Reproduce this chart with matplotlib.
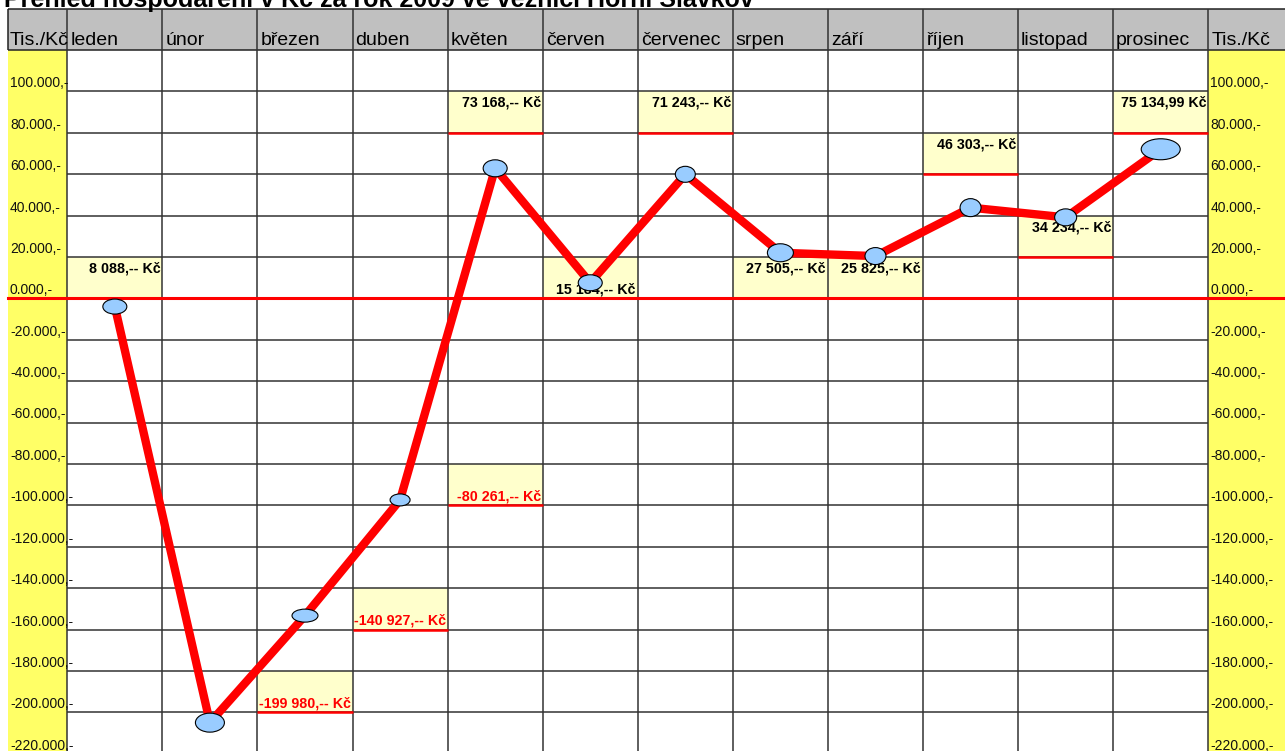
import numpy as np
import matplotlib.pyplot as plt
from matplotlib.patches import Ellipse, Rectangle

plt.rcParams['font.family'] = ['Liberation Sans', 'DejaVu Sans']

title = "Přehled hospodaření v Kč za rok 2009 ve věznici Horní Slavkov"
months = ["leden", "únor", "březen", "duben", "květen", "červen",
          "červenec", "srpen", "září", "říjen", "listopad", "prosinec"]
# curve values in thousands Kč
balance = [-4.0, -205.0, -153.3, -97.4, 62.8, 7.5,
           59.9, 22.0, 20.4, 43.8, 39.1, 72.0]

# value boxes: month index, text
label_month = [0, 2, 3, 4, 4, 5, 6, 7, 8, 9, 10, 11]
label_text = ["8 088,-- Kč", "-199 980,-- Kč", "-140 927,-- Kč", "-80 261,-- Kč",
              "73 168,-- Kč", "15 184,-- Kč", "71 243,-- Kč", "27 505,-- Kč",
              "25 825,-- Kč", "46 303,-- Kč", "34 234,-- Kč", "75 134,99 Kč"]
# which grid cell (its lower edge) each box sits in, and where the text sits
label_row = [0, -200, -160, -100, 80, 0, 80, 0, 0, 60, 20, 80]
label_top = [True, False, False, False, True, False, True, True, True, True, True, True]

ticks = list(range(100, -221, -20))
unit = "Tis./Kč"

# marker ellipse sizes in pixels (w, h)
marker_w = [24, 29, 26, 20, 24, 24, 20, 26, 21, 21, 22, 39]
marker_h = [15, 19, 13, 12, 17, 16, 16, 18, 17, 18, 17, 21]

# page geometry in pixels
W, H = 1285, 751
x0_px, col_px = 67.3, 95.08
zero_px, row_px = 298.3, 41.4
left_px, hdr_top_px, hdr_bot_px = 8, 9, 50
kx = 1 / col_px
ky = 20 / row_px

fig = plt.figure(figsize=(W / 100, H / 100), dpi=100)
ax = fig.add_axes([0, 0, 1, 1])
xmin, xmax = -x0_px * kx, (W - x0_px) * kx
ymin, ymax = -(H - zero_px) * ky, zero_px * ky
ax.set_xlim(xmin, xmax)
ax.set_ylim(ymin, ymax)
ax.axis('off')

xl = (left_px - x0_px) * kx
yh_top = (zero_px - hdr_top_px) * ky
yh_bot = (zero_px - hdr_bot_px) * ky

# header band
ax.add_patch(Rectangle((xl, yh_bot), xmax - xl, yh_top - yh_bot,
                       fc='#C0C0C0', ec='none', zorder=0))
ax.hlines([yh_top, yh_bot], xl, xmax, color='#222222', lw=1.1, zorder=2)
ax.vlines(xl, yh_bot, yh_top, color='#222222', lw=1.1, zorder=2)

# yellow side columns
ax.add_patch(Rectangle((xl, ymin), -xl, yh_bot - ymin, fc='#FFFF66', ec='none', zorder=0))
ax.add_patch(Rectangle((12, ymin), xmax - 12, yh_bot - ymin, fc='#FFFF66', ec='none', zorder=0))

# value boxes
for m, row in zip(label_month, label_row):
    ax.add_patch(Rectangle((m, row), 1, 20, fc='#FFFFCC', ec='none', zorder=1))

# grid
grid_y = [v for v in range(-200, 101, 20) if v != 0]
ax.hlines(grid_y, 0, 12, color='#333333', lw=1.1, zorder=2)
ax.vlines(np.arange(13), ymin, yh_top, color='#333333', lw=1.1, zorder=2)

for m, row in zip(label_month, label_row):
    ax.hlines(row, m, m + 1, color='#FF0000', lw=1.8, zorder=3)

ax.axhline(0, xmin=(xl - xmin) / (xmax - xmin), xmax=1, color='#FF0000', lw=2.2, zorder=3)

# header text
ax.annotate(unit, (xl, yh_bot), xytext=(2, 5), textcoords='offset pixels',
            fontsize=14, va='baseline', ha='left', zorder=4)
ax.annotate(unit, (12, yh_bot), xytext=(3, 5), textcoords='offset pixels',
            fontsize=14, va='baseline', ha='left', zorder=4)
for i, name in enumerate(months):
    ax.annotate(name, (i, yh_bot), xytext=(3, 5), textcoords='offset pixels',
                fontsize=14, va='baseline', ha='left', zorder=4)

# axis labels on both yellow columns
for v in ticks:
    s = f"{v}.000,-"
    ax.annotate(s, (xl, v), xytext=(2, 4), textcoords='offset pixels',
                fontsize=10, va='baseline', ha='left', color='#111111',
                annotation_clip=False, zorder=4)
    ax.annotate(s, (12, v), xytext=(2, 4), textcoords='offset pixels',
                fontsize=10, va='baseline', ha='left', color='#111111',
                annotation_clip=False, zorder=4)

# value box text
for m, row, txt, top in zip(label_month, label_row, label_text, label_top):
    color = '#FF0000' if txt.startswith('-') else 'black'
    y = row + 20 if top else row
    dy = -11.5 if top else 9
    ax.annotate(txt, (m + 1, y), xytext=(-2, dy), textcoords='offset pixels',
                fontsize=10.3, fontweight='bold', color=color,
                va='center', ha='right', zorder=4)

# curve
xs = np.arange(len(months)) + 0.5
ax.plot(xs, balance, color='#FF0000', lw=6, solid_capstyle='round',
        solid_joinstyle='round', zorder=5)
for x, v, w, h in zip(xs, balance, marker_w, marker_h):
    ax.add_patch(Ellipse((x, v), w * kx, h * ky, fc='#99CCFF', ec='black',
                         lw=0.8, zorder=6))

# title is cut by the top edge in the source image
fig.text(4 / W, 1 - 7 / H, title, fontsize=18, fontweight='bold', va='baseline', ha='left')

fig.savefig('out.png', dpi=100)
